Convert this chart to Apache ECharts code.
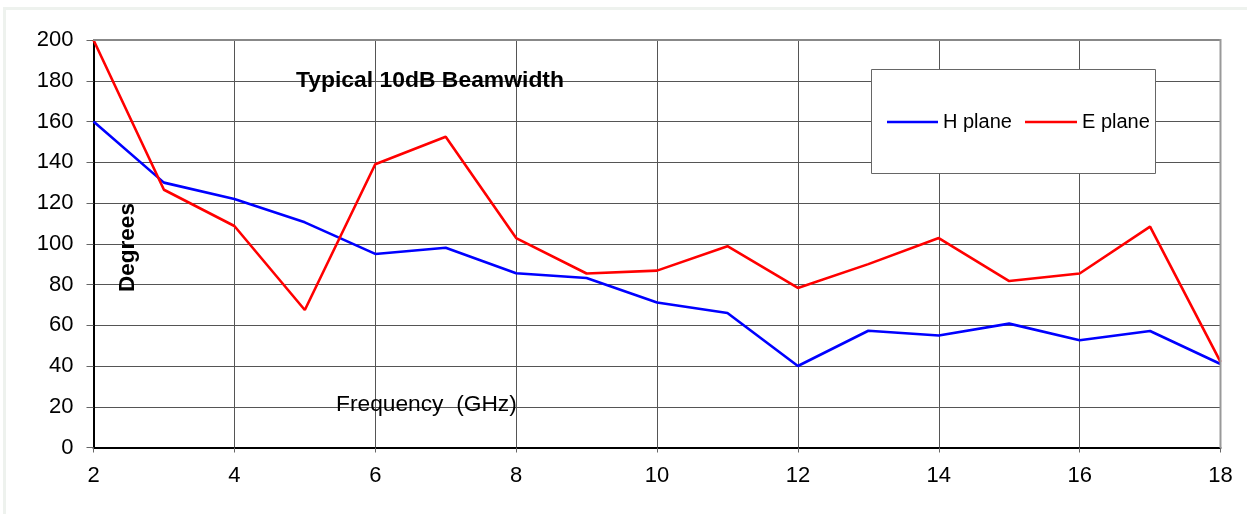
<!DOCTYPE html>
<html>
<head>
<meta charset="utf-8">
<script src="https://cdn.jsdelivr.net/npm/echarts@6/dist/echarts.min.js"></script>
<style>
html,body{margin:0;padding:0;background:#fff;}
#chart{width:1247px;height:514px;}
</style>
</head>
<body>
<div id="chart"></div>
<script>
const frequencies = [2,3,4,5,6,7,8,9,10,11,12,13,14,15,16,17,18];
const hPlane = [160,130,122,110.5,95,98,85.5,83.2,71.2,66,40,57.3,55,60.8,52.6,57.2,41];
const ePlane = [200,126.5,108.7,67.5,139,152.5,102.8,85.4,86.8,98.8,78.3,90,102.8,81.7,85.4,108.4,42];
const titleText = 'Typical 10dB Beamwidth';
const yAxisTitle = 'Degrees';
const xAxisTitle = 'Frequency  (GHz)';
const seriesNames = ['H plane','E plane'];

const chart = echarts.init(document.getElementById('chart'), null, {renderer:'canvas'});
const FONT = 'Liberation Sans, Arial, sans-serif';
const toPairs = (xs, ys) => xs.map((x,i)=>[x, ys[i]]);

chart.setOption({
  animation:false,
  backgroundColor:'#fff',
  grid:{left:93.5, right:26.5, top:40, bottom:66.5, show:false},
  xAxis:{
    type:'value', min:2, max:18, interval:2,
    axisLine:{show:true, onZero:false, lineStyle:{color:'#000', width:2}},
    axisTick:{show:true, length:5, lineStyle:{color:'#666', width:1}},
    axisLabel:{color:'#000', fontFamily:FONT, fontSize:22, margin:17},
    splitLine:{show:true, lineStyle:{color:'#555', width:1}}
  },
  yAxis:{
    type:'value', min:0, max:200, interval:20,
    axisLine:{show:true, onZero:false, lineStyle:{color:'#000', width:2}},
    axisTick:{show:true, length:7, lineStyle:{color:'#666', width:1}},
    axisLabel:{color:'#000', fontFamily:FONT, fontSize:22, margin:20},
    splitLine:{show:true, lineStyle:{color:'#555', width:1}}
  },
  legend:{show:false},
  series:[
    {name:seriesNames[0], type:'line', data:toPairs(frequencies,hPlane), symbol:'none', lineStyle:{color:'#0000ff', width:2.6}, itemStyle:{color:'#0000ff'}, z:3},
    {name:seriesNames[1], type:'line', data:toPairs(frequencies,ePlane), symbol:'none', lineStyle:{color:'#ff0000', width:2.6}, itemStyle:{color:'#ff0000'}, z:4}
  ],
  graphic:[
    {type:'rect', shape:{x:3, y:7, width:1244, height:3}, style:{fill:'#eef2ee'}, z:0},
    {type:'rect', shape:{x:3, y:7, width:3, height:507}, style:{fill:'#eef2ee'}, z:0},
    {type:'line', shape:{x1:93, y1:40, x2:1221, y2:40}, style:{stroke:'#888', lineWidth:2}, z:5},
    {type:'line', shape:{x1:1220.5, y1:39, x2:1220.5, y2:448}, style:{stroke:'#999', lineWidth:2}, z:5},
    {type:'text', left:296, top:69, style:{text:titleText, font:'bold 22.9px '+FONT, fill:'#000'}, z:10},
    {type:'text', x:127.5, y:247.5, rotation:Math.PI/2, style:{text:yAxisTitle, font:'bold 22.5px '+FONT, fill:'#000', align:'center', verticalAlign:'middle'}, z:10},
    {type:'text', left:336, top:393, style:{text:xAxisTitle, font:'22.75px '+FONT, fill:'#000'}, z:10},
    {type:'rect', shape:{x:871.5, y:69.5, width:284, height:104}, style:{fill:'#fff', stroke:'#666', lineWidth:1}, z:20},
    {type:'line', shape:{x1:887, y1:122, x2:938, y2:122}, style:{stroke:'#0000ff', lineWidth:2.6}, z:21},
    {type:'text', x:943, y:122, style:{text:seriesNames[0], font:'20px '+FONT, fill:'#000', verticalAlign:'middle'}, z:21},
    {type:'line', shape:{x1:1025, y1:122, x2:1077, y2:122}, style:{stroke:'#ff0000', lineWidth:2.6}, z:21},
    {type:'text', x:1082, y:122, style:{text:seriesNames[1], font:'20px '+FONT, fill:'#000', verticalAlign:'middle'}, z:21}
  ]
});
</script>
</body>
</html>
